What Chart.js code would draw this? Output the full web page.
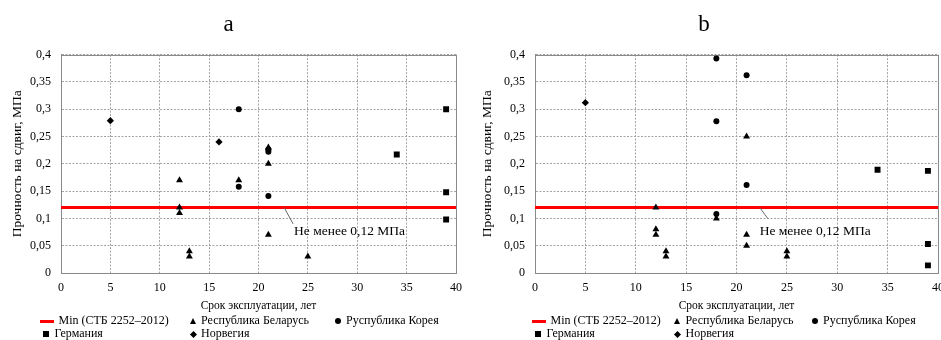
<!DOCTYPE html>
<html>
<head>
<meta charset="utf-8">
<script src="https://cdn.jsdelivr.net/npm/chart.js@4.4.1/dist/chart.umd.min.js"></script>
<style>
  body { margin: 0; width: 941px; height: 340px; overflow: hidden; background: #fff; position: relative; font-family: "Liberation Serif", serif; }
  .panel { position: absolute; top: 0; height: 340px; }
  #panelA { left: 0; width: 470px; }
  #panelB { left: 470px; width: 490px; }
  .panel canvas { position: absolute; left: 0; top: 0; }
  .item { position: absolute; white-space: nowrap; font-size: 12px; line-height: 13px; color: #000; }
  .mark { position: absolute; }
  .m-line { width: 14px; height: 3px; background: #ff0000; }
  .m-triangle { width: 0; height: 0; border-left: 3.5px solid transparent; border-right: 3.5px solid transparent; border-bottom: 6px solid #000; }
  .m-circle { width: 6px; height: 6px; border-radius: 50%; background: #000; }
  .m-rect { width: 6px; height: 6px; background: #000; }
  .m-rectRot { width: 5px; height: 5px; background: #000; transform: rotate(45deg); }
</style>
</head>
<body>
<div class="panel" id="panelA"><canvas id="chartA" width="470" height="316"></canvas></div>
<div class="panel" id="panelB"><canvas id="chartB" width="490" height="316"></canvas></div>
<script>
const seriesNames = ['Min (СТБ 2252–2012)', 'Республика Беларусь', 'Руспублика Корея', 'Германия', 'Норвегия'];
const xTickLabels = ['0', '5', '10', '15', '20', '25', '30', '35', '40'];
const yTickLabels = ['0', '0,05', '0,1', '0,15', '0,2', '0,25', '0,3', '0,35', '0,4'];
const minLimit = 0.12;
const limitSpan = [0, 40];
const limitNote = 'Не менее 0,12 МПа';
const xTitle = 'Срок эксплуатации, лет';
const yTitle = 'Прочность на сдвиг, МПа';

// panel a: [years, MPa]
const belarusA = [[12, 0.17], [12, 0.12], [12, 0.11], [13, 0.04], [13, 0.03], [18, 0.17], [21, 0.23], [21, 0.2], [21, 0.07], [25, 0.03]];
const koreaA = [[18, 0.3], [18, 0.158], [21, 0.226], [21, 0.222], [21, 0.141]];
const germanyA = [[34, 0.217], [39, 0.3], [39, 0.148], [39, 0.098]];
const norwayA = [[5, 0.279], [16, 0.24]];

// panel b
const belarusB = [[12, 0.12], [12, 0.08], [12, 0.07], [13, 0.04], [13, 0.03], [18, 0.1], [21, 0.25], [21, 0.07], [21, 0.05], [25, 0.04], [25, 0.03]];
const koreaB = [[18, 0.393], [18, 0.278], [18, 0.108], [21, 0.362], [21, 0.161]];
const germanyB = [[34, 0.189], [39, 0.187], [39, 0.053], [39, 0.014]];
const norwayB = [[5, 0.312]];

const styles = [
  { pointStyle: 'line', radius: 0 },
  { pointStyle: 'triangle', radius: 4 },
  { pointStyle: 'circle', radius: 3 },
  { pointStyle: 'rect', radius: 4.2 },
  { pointStyle: 'rectRot', radius: 3.6 },
];

const toPts = (arr) => arr.map((p) => ({ x: p[0], y: p[1] }));

// frame around the plot + leader line with the note
const framePlugin = {
  id: 'frame',
  beforeDatasetsDraw(chart) {
    const { ctx, chartArea: a } = chart;
    ctx.save();
    ctx.strokeStyle = '#8a8a8a';
    ctx.lineWidth = 1;
    ctx.strokeRect(Math.round(a.left) + 0.5, Math.round(a.top) + 0.5, Math.round(a.right - a.left), Math.round(a.bottom - a.top));
    ctx.restore();
  },
  afterDatasetsDraw(chart, args, opts) {
    const { ctx, scales: { x, y } } = chart;
    ctx.save();
    ctx.strokeStyle = '#666';
    ctx.lineWidth = 1;
    ctx.beginPath();
    ctx.moveTo(x.getPixelForValue(opts.from[0]), y.getPixelForValue(opts.from[1]));
    ctx.lineTo(x.getPixelForValue(opts.to[0]), y.getPixelForValue(opts.to[1]));
    ctx.stroke();
    ctx.fillStyle = '#000';
    ctx.font = '13.5px "Liberation Serif"';
    ctx.textBaseline = 'middle';
    ctx.textAlign = 'left';
    ctx.fillText(limitNote, x.getPixelForValue(opts.text[0]), y.getPixelForValue(opts.text[1]));
    ctx.restore();
  }
};

function makeChart(id, title, series, cfg) {
  const datasets = [{
    type: 'line',
    label: seriesNames[0],
    data: limitSpan.map((v) => ({ x: v, y: minLimit })),
    borderColor: '#ff0000',
    borderWidth: 3,
    pointRadius: 0,
    order: 10,
  }];
  series.forEach((s, i) => {
    datasets.push({
      label: seriesNames[i + 1],
      data: toPts(s),
      pointStyle: styles[i + 1].pointStyle,
      pointRadius: styles[i + 1].radius,
      backgroundColor: '#000',
      borderColor: '#000',
      borderWidth: 0,
      order: 0,
    });
  });

  return new Chart(document.getElementById(id), {
    type: 'scatter',
    data: { datasets },
    plugins: [framePlugin],
    options: {
      responsive: false,
      animation: false,
      layout: { padding: { left: 0, right: cfg.padRight, top: 0, bottom: 0 } },
      plugins: {
        legend: { display: false },
        tooltip: { enabled: false },
        title: {
          display: true,
          text: title,
          color: '#000',
          font: { family: 'Liberation Serif', size: 23, weight: 'normal' },
          padding: { top: 11, bottom: 16 },
        },
        frame: cfg.note,
      },
      scales: {
        x: {
          min: 0, max: 40,
          afterFit: (s) => { s.height = 43; },
          ticks: { stepSize: 5, padding: 8, color: '#000', font: { family: 'Liberation Serif', size: 12 }, callback: (v, i) => xTickLabels[i] },
          grid: { color: '#a3a3a3', drawTicks: false },
          border: { color: '#8a8a8a', dash: [2, 1.5] },
          title: { display: true, text: xTitle, color: '#000', font: { family: 'Liberation Serif', size: 11.5 }, padding: { top: 0, bottom: 3 } },
        },
        y: {
          min: 0, max: 0.4,
          afterFit: (s) => { s.width = cfg.yWidth; },
          ticks: { stepSize: 0.05, padding: 10, color: '#000', font: { family: 'Liberation Serif', size: 12 }, callback: (v, i) => yTickLabels[i] },
          grid: { color: '#a3a3a3', drawTicks: false },
          border: { color: '#8a8a8a', dash: [2, 1.5] },
          title: { display: true, text: yTitle, color: '#000', font: { family: 'Liberation Serif', size: 13.5 }, padding: { top: 9, bottom: 0 } },
        },
      },
    },
  });
}

function makeLegend(panelId, cols) {
  const panel = document.getElementById(panelId);
  const rows = [[0, 1, 2], [3, 4]];
  const rowY = [321, 334];
  rows.forEach((row, r) => {
    row.forEach((si, c) => {
      const cx = cols[c];
      const m = document.createElement('div');
      m.className = 'mark m-' + styles[si].pointStyle;
      const mw = si === 0 ? 14 : (si === 4 ? 5 : 7);
      const mh = si === 0 ? 3 : (si === 4 ? 5 : 6);
      m.style.left = (cx - mw / 2) + 'px';
      m.style.top = (rowY[r] - mh / 2) + 'px';
      panel.appendChild(m);
      const t = document.createElement('div');
      t.className = 'item';
      t.textContent = seriesNames[si];
      t.style.left = (cx + (si === 0 ? 12 : 8)) + 'px';
      t.style.top = (rowY[r] - 7) + 'px';
      panel.appendChild(t);
    });
  });
}

makeChart('chartA', 'a', [belarusA, koreaA, germanyA, norwayA], {
  padRight: 13, yWidth: 61,
  note: { from: [22.6, 0.12], to: [23.5, 0.09], text: [23.6, 0.077] },
});
makeChart('chartB', 'b', [belarusB, koreaB, germanyB, norwayB], {
  padRight: 22, yWidth: 65,
  note: { from: [22.3, 0.12], to: [23.1, 0.1], text: [22.3, 0.077] },
});
makeLegend('panelA', [46.5, 193, 338]);
makeLegend('panelB', [68.5, 207.5, 345]);
</script>
</body>
</html>
